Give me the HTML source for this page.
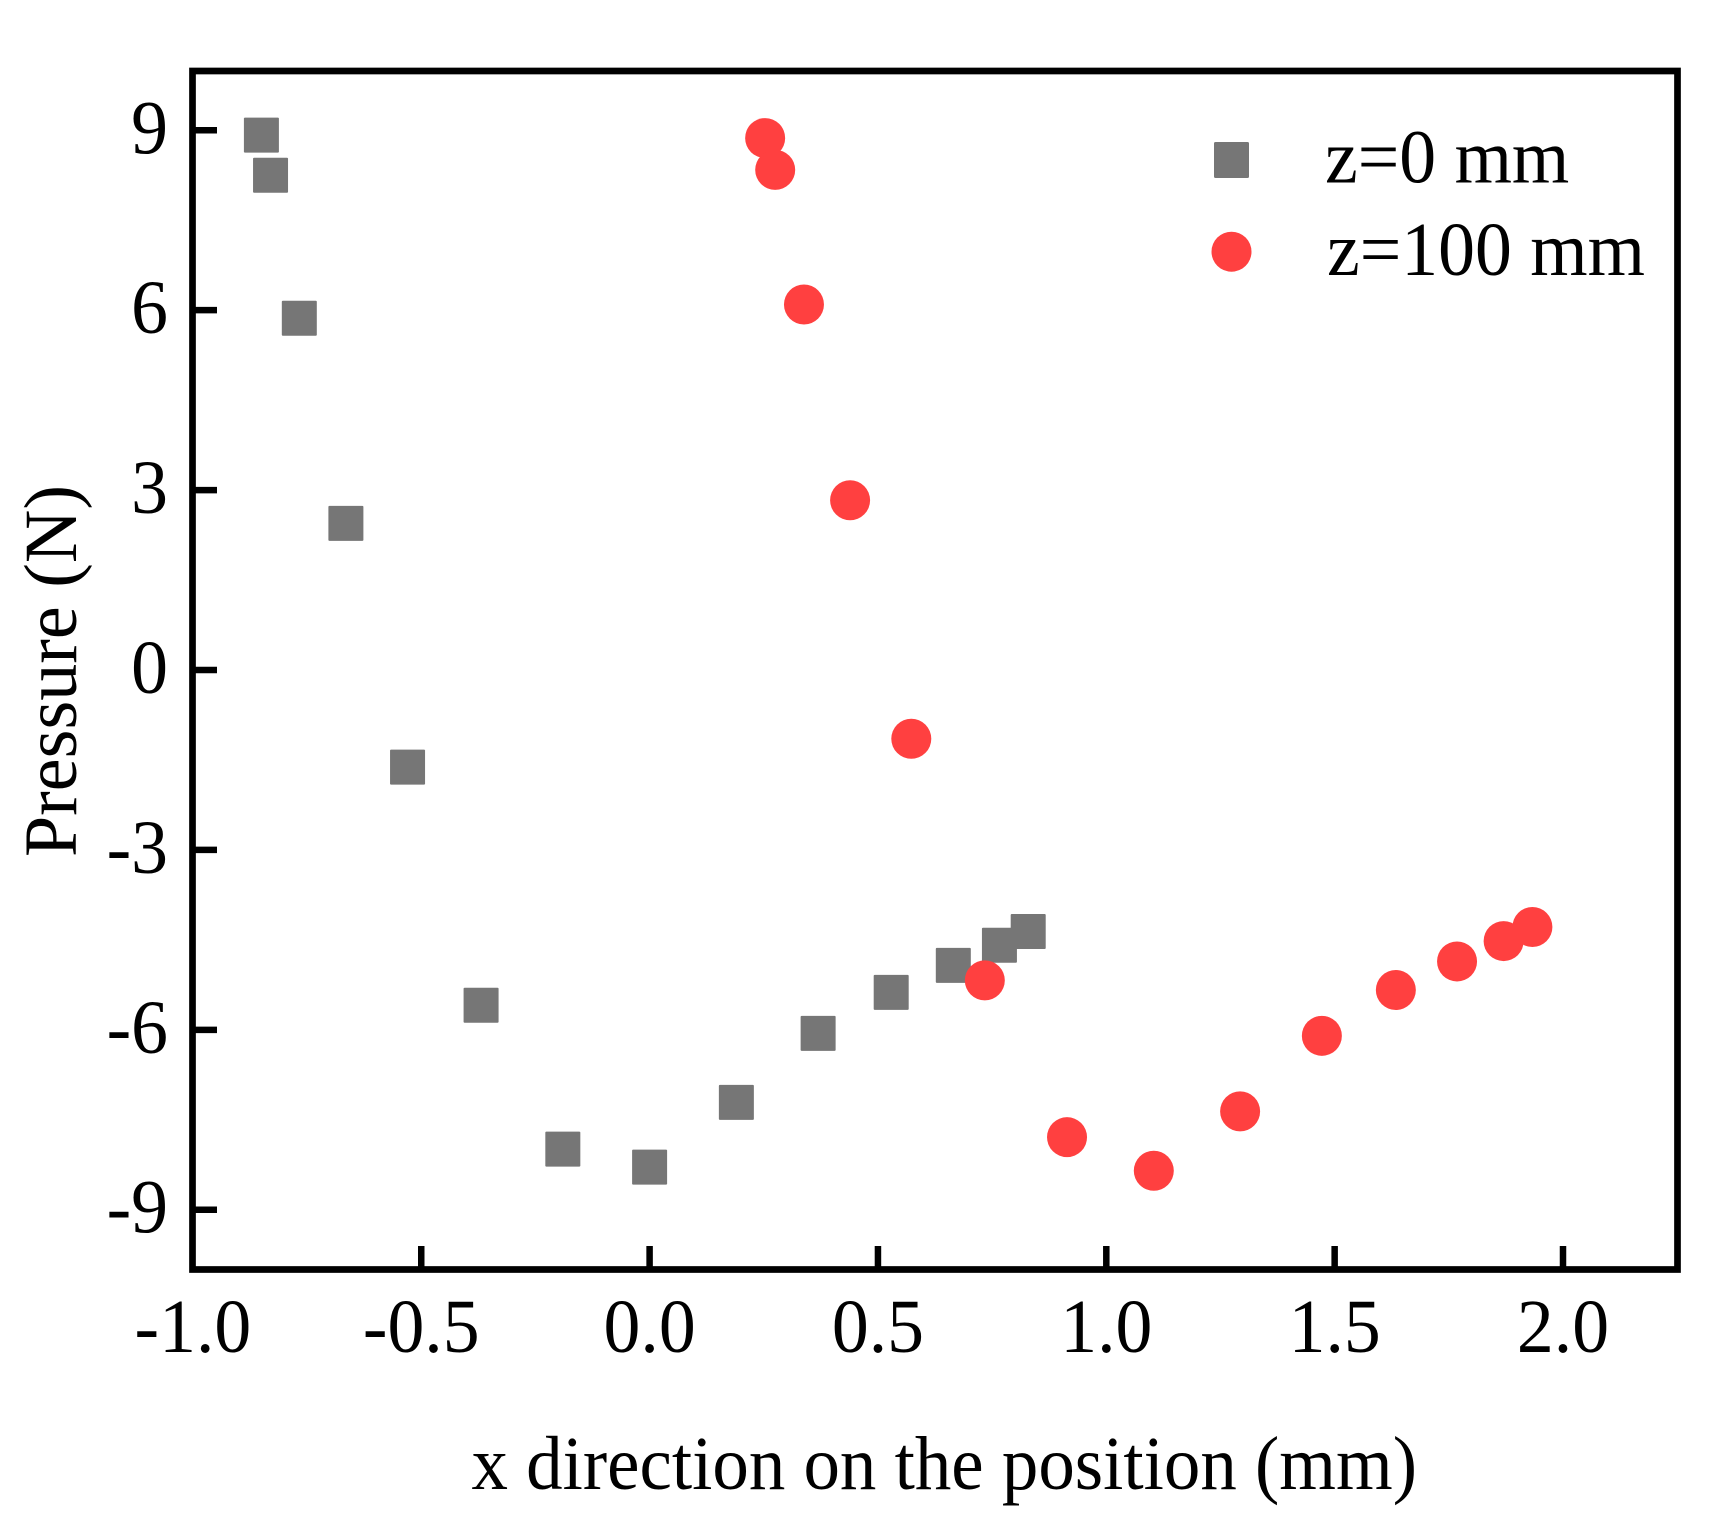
<!DOCTYPE html>
<html lang="en">
<head>
<meta charset="utf-8">
<title>Pressure vs position</title>
<style>
html,body{margin:0;padding:0;background:#fff;width:1728px;height:1528px;overflow:hidden}
svg{display:block}
text{font-family:"Liberation Serif","Times New Roman",serif;fill:#000}
</style>
</head>
<body>
<svg id="chart" xmlns="http://www.w3.org/2000/svg" width="1728" height="1528" viewBox="0 0 1728 1528">
  <rect x="0" y="0" width="1728" height="1528" fill="#fff"/>
  <g id="marks-z0"></g>
  <g id="marks-z100"></g>
  <g id="ticks"></g>
  <rect x="192.5" y="71" width="1485" height="1198.5" fill="none" stroke="#000" stroke-width="6.7"/>
  <g id="tick-labels"></g>
  <text x="471.5" y="1489" font-size="76" textLength="945.5" lengthAdjust="spacingAndGlyphs">x direction on the position (mm)</text>
  <text transform="translate(76,857) rotate(-90)" x="0" y="0" font-size="75" textLength="372" lengthAdjust="spacingAndGlyphs">Pressure (N)</text>
  <g>
    <rect x="1214" y="142" width="35" height="36" rx="1.5" fill="#767676"/>
    <text transform="translate(1325,182.7) scale(0.97,1)" font-size="76">z=0 mm</text>
    <circle cx="1231.5" cy="251.7" r="20" fill="#ff4040"/>
    <text transform="translate(1327,275) scale(0.97,1)" font-size="76">z=100 mm</text>
  </g>
</svg>
<script>
const xTickValues = [-1.0, -0.5, 0.0, 0.5, 1.0, 1.5, 2.0];
const xTickLabels = ["-1.0", "-0.5", "0.0", "0.5", "1.0", "1.5", "2.0"];
const yTickValues = [9, 6, 3, 0, -3, -6, -9];
const yTickLabels = ["9", "6", "3", "0", "-3", "-6", "-9"];

const z0X = [-0.85, -0.83, -0.767, -0.665, -0.53, -0.369, -0.19, 0.0, 0.19, 0.369, 0.529, 0.665, 0.766, 0.829];
const z0Y = [8.92, 8.25, 5.865, 2.445, -1.62, -5.59, -7.99, -8.29, -7.21, -6.06, -5.375, -4.925, -4.59, -4.36];
const z100X = [0.253, 0.275, 0.338, 0.439, 0.573, 0.734, 0.914, 1.104, 1.293, 1.472, 1.634, 1.768, 1.87, 1.933];
const z100Y = [8.87, 8.34, 6.095, 2.83, -1.147, -5.175, -7.79, -8.35, -7.36, -6.1, -5.336, -4.86, -4.52, -4.285];

const NS = "http://www.w3.org/2000/svg";
function xAxis(v) { return 649.6 + 456.7 * v; }
function yAxis(v) { return 670 - 59.97 * v; }

const marksZ0 = document.getElementById("marks-z0");
const marksZ100 = document.getElementById("marks-z100");
const ticks = document.getElementById("ticks");
const tickLabels = document.getElementById("tick-labels");

z0X.forEach(function (xv, i) {
  const el = document.createElementNS(NS, "rect");
  el.setAttribute("x", xAxis(xv) - 17.5);
  el.setAttribute("y", yAxis(z0Y[i]) - 17.5);
  el.setAttribute("width", 35);
  el.setAttribute("height", 35);
  el.setAttribute("rx", 1);
  el.setAttribute("fill", "#767676");
  
  
  marksZ0.appendChild(el);
});

z100X.forEach(function (xv, i) {
  const el = document.createElementNS(NS, "circle");
  el.setAttribute("cx", xAxis(xv));
  el.setAttribute("cy", yAxis(z100Y[i]));
  el.setAttribute("r", 20);
  el.setAttribute("fill", "#ff4040");
  
  
  marksZ100.appendChild(el);
});

xTickValues.forEach(function (v, i) {
  const px = xAxis(v);
  if (i > 0) {
    const tick = document.createElementNS(NS, "line");
    tick.setAttribute("x1", px);
    tick.setAttribute("x2", px);
    tick.setAttribute("y1", 1246);
    tick.setAttribute("y2", 1269);
    tick.setAttribute("stroke", "#000");
    tick.setAttribute("stroke-width", 6.5);
    
    
    ticks.appendChild(tick);
  }
  const label = document.createElementNS(NS, "text");
  label.setAttribute("transform", "translate(" + px + ",1352) scale(0.97,1)");
  label.setAttribute("text-anchor", "middle");
  label.setAttribute("font-size", 76);
  label.textContent = xTickLabels[i];
  
  
  tickLabels.appendChild(label);
});

yTickValues.forEach(function (v, i) {
  const py = yAxis(v);
  const tick = document.createElementNS(NS, "line");
  tick.setAttribute("x1", 192);
  tick.setAttribute("x2", 217);
  tick.setAttribute("y1", py);
  tick.setAttribute("y2", py);
  tick.setAttribute("stroke", "#000");
  tick.setAttribute("stroke-width", 6.5);
  
  
  ticks.appendChild(tick);
  const label = document.createElementNS(NS, "text");
  label.setAttribute("transform", "translate(168," + (py + 23) + ") scale(0.97,1)");
  label.setAttribute("text-anchor", "end");
  label.setAttribute("font-size", 76);
  label.textContent = yTickLabels[i];
  
  
  tickLabels.appendChild(label);
});
</script>
</body>
</html>
